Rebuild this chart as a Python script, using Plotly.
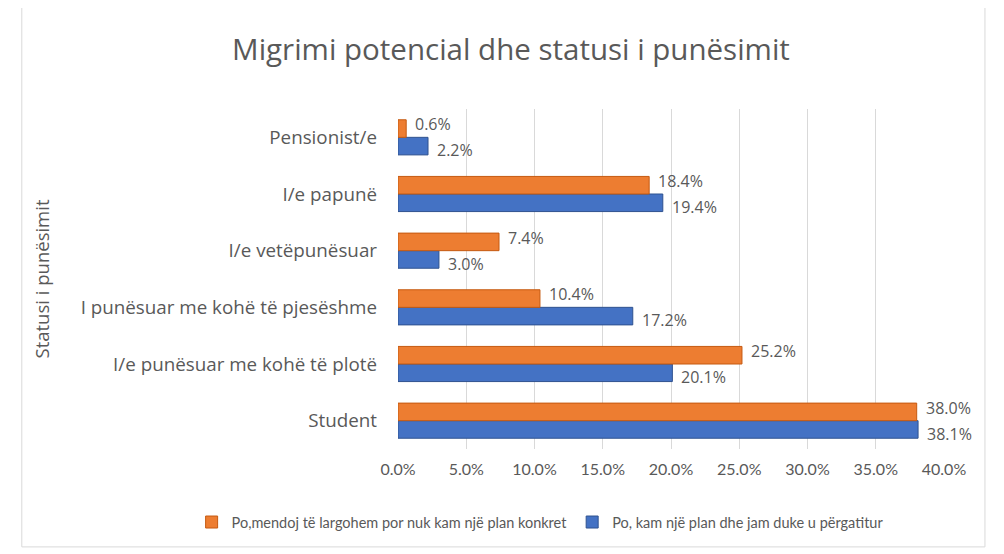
import plotly.graph_objects as go

# migrimi potencial sipas statusit te punesimit
categories = ["Student", "I/e punësuar me kohë të plotë", "I punësuar me kohë të pjesëshme",
              "I/e vetëpunësuar", "I/e papunë", "Pensionist/e"]
no_plan = [38.0, 25.2, 10.4, 7.4, 18.4, 0.6]      # Po, mendoj... pa plan konkret
with_plan = [38.1, 20.1, 17.2, 3.0, 19.4, 2.2]    # Po, kam nje plan...
x_ticks = [0, 5, 10, 15, 20, 25, 30, 35, 40]
x_ticktext = [f"{v:.1f}%" for v in x_ticks]

grey = "#595959"
wide_font = "'Open Sans', 'Noto Sans', sans-serif"
narrow_font = "Lato, 'Noto Sans', sans-serif"

fig = go.Figure()
# blue first so it sits below the orange bar in each group
fig.add_trace(go.Bar(
    y=categories, x=with_plan, orientation="h",
    name="Po, kam një plan dhe jam duke u përgatitur",
    marker=dict(color="#4472C4", line=dict(color="#2F528F", width=1)),
))
fig.add_trace(go.Bar(
    y=categories, x=no_plan, orientation="h",
    name="Po,mendoj të largohem por nuk kam një plan konkret",
    marker=dict(color="#ED7D31", line=dict(color="#C55A11", width=1)),
))

# data labels, orange ones nudged up and blue ones down like in the original
for cat, v in zip(categories, no_plan):
    fig.add_annotation(x=v, y=cat, text=f"{v:.1f}%", showarrow=False, xanchor="left",
                       xshift=7, yshift=13, font=dict(family=wide_font, size=16, color=grey))
for cat, v in zip(categories, with_plan):
    fig.add_annotation(x=v, y=cat, text=f"{v:.1f}%", showarrow=False, xanchor="left",
                       xshift=7, yshift=-13, font=dict(family=wide_font, size=16, color=grey))

# page body adds an 8px offset, margins are set with that in mind
fig.update_layout(
    width=1004, height=554,
    paper_bgcolor="white", plot_bgcolor="white",
    font=dict(family=narrow_font, color=grey, size=14),
    title=dict(text="Migrimi potencial dhe statusi i punësimit", x=0.501, xanchor="center",
               y=0.925, yanchor="middle", font=dict(family=wide_font, size=29.5, color=grey)),
    barmode="group", bargap=0.38, bargroupgap=0,
    margin=dict(l=390, r=68, t=101, b=113),
    showlegend=True,
    legend=dict(orientation="h", x=-0.378, xanchor="left", y=-0.215, yanchor="middle",
                traceorder="reversed", bgcolor="rgba(0,0,0,0)",
                font=dict(family=narrow_font, size=14.5, color=grey), itemwidth=30),
)
fig.update_xaxes(
    range=[0, 40], tickvals=x_ticks, ticktext=x_ticktext,
    showgrid=True, gridcolor="#D9D9D9", gridwidth=1, zeroline=False,
    showline=False, ticks="", ticklabelstandoff=9, automargin=False,
    tickfont=dict(family=narrow_font, size=16, color=grey),
)
fig.update_yaxes(
    showgrid=False, showline=False, ticks="", ticklabelstandoff=20, automargin=False,
    tickfont=dict(family=wide_font, size=18.8, color=grey),
    title=dict(text="Statusi i punësimit", font=dict(family=wide_font, size=18.5, color=grey),
               standoff=26),
)
# chart border
fig.add_shape(type="rect", xref="paper", yref="paper",
              x0=-0.689, x1=1.075, y0=-0.288, y1=1.306,
              line=dict(color="#D9D9D9", width=1), fillcolor="rgba(0,0,0,0)", layer="below")

fig.write_html("out.html")
